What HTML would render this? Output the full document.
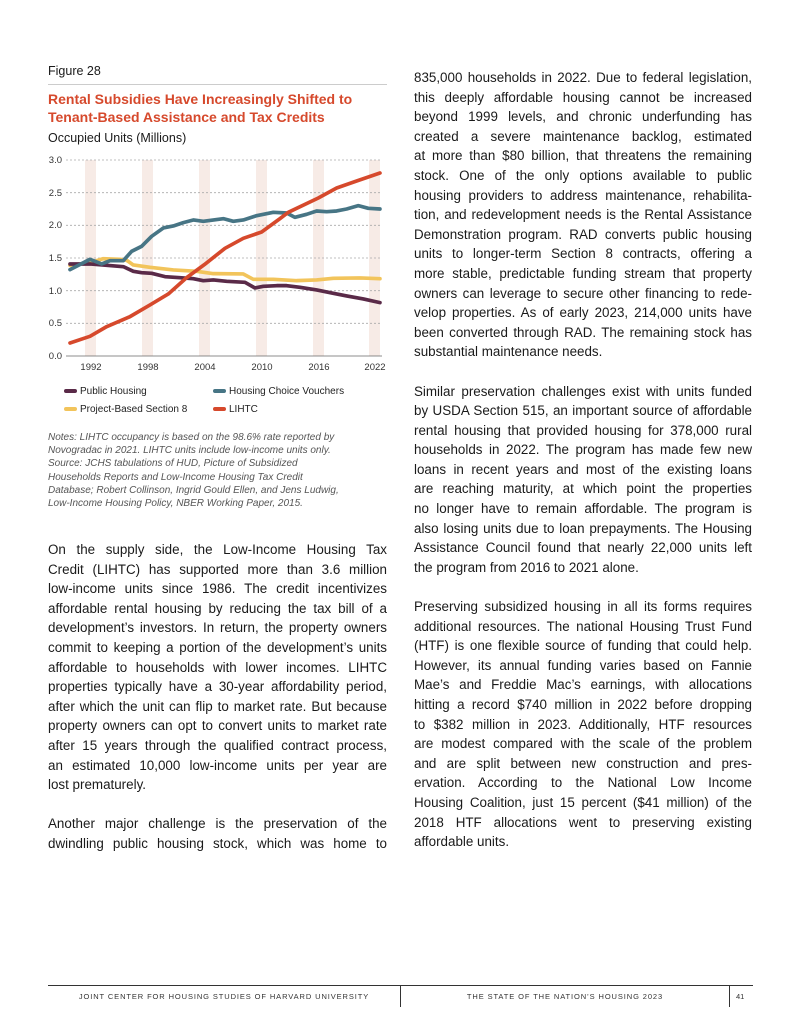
<!DOCTYPE html>
<html><head><meta charset="utf-8"><style>
body{margin:0;background:#fff;}
#p{position:relative;width:800px;height:1035px;overflow:hidden;font-family:"Liberation Sans",sans-serif;color:#1a1a1a;}
.a{position:absolute;}
.col div{height:19.6px;line-height:19.6px;font-size:13.4px;white-space:nowrap;text-align:justify;text-align-last:justify;}
.col div.l{text-align-last:left;}
.n div{height:13.2px;line-height:13.2px;font-size:10px;font-style:italic;color:#555;white-space:nowrap;}
</style></head><body><div id="p">
<div class="a" style="left:48px;top:64px;font-size:12.5px;">Figure 28</div>
<div class="a" style="left:48px;top:84px;width:339px;height:1px;background:#ccc;"></div>
<div class="a" style="left:48px;top:90px;font-size:14px;font-weight:bold;color:#d6492c;line-height:18px;">Rental Subsidies Have Increasingly Shifted to<br>Tenant-Based Assistance and Tax Credits</div>
<div class="a" style="left:48px;top:131px;font-size:12.5px;">Occupied Units (Millions)</div>
<svg class="a" style="left:0;top:0" width="400" height="420">
<g fill="#f7ebe6"><rect x="85" y="160" width="11" height="196"/><rect x="142" y="160" width="11" height="196"/><rect x="199" y="160" width="11" height="196"/><rect x="256" y="160" width="11" height="196"/><rect x="313" y="160" width="11" height="196"/><rect x="369" y="160" width="11" height="196"/></g>
<g stroke="#aaa" stroke-dasharray="2,2" stroke-width="0.8"><line x1="66" x2="382" y1="160" y2="160"/><line x1="66" x2="382" y1="192.7" y2="192.7"/><line x1="66" x2="382" y1="225.3" y2="225.3"/><line x1="66" x2="382" y1="258" y2="258"/><line x1="66" x2="382" y1="290.7" y2="290.7"/><line x1="66" x2="382" y1="323.3" y2="323.3"/></g>
<line x1="66" x2="382" y1="356" y2="356" stroke="#666" stroke-width="0.8"/>
<g font-size="9.5" fill="#333" text-anchor="end"><text x="62" y="163">3.0</text><text x="62" y="196">2.5</text><text x="62" y="228">2.0</text><text x="62" y="261">1.5</text><text x="62" y="294">1.0</text><text x="62" y="326">0.5</text><text x="62" y="359">0.0</text></g>
<g font-size="9.5" fill="#333" text-anchor="middle"><text x="91" y="370">1992</text><text x="148" y="370">1998</text><text x="205" y="370">2004</text><text x="262" y="370">2010</text><text x="319" y="370">2016</text><text x="375" y="370">2022</text></g>
<g transform="translate(40,60) scale(0.3333)" fill="none" stroke-width="11" stroke-linejoin="round" stroke-linecap="round">
<polyline stroke="#f2c45b" points="90,616 150,608 190,596 240,598 260,601 280,615 330,622 400,630 470,634 520,641 610,642 640,658 700,658 770,662 830,660 880,655 960,654 1020,656"/>
<polyline stroke="#5a2a48" points="90,612 150,612 200,616 250,620 280,634 305,638 335,640 375,650 420,653 460,656 490,662 520,660 560,664 615,667 645,684 670,679 710,677 740,677 780,682 830,690 880,700 920,708 970,717 1020,728"/>
<polyline stroke="#477585" points="90,629 150,598 185,612 210,602 250,602 275,574 305,559 335,529 370,504 400,498 430,488 460,480 490,484 550,476 580,484 610,480 650,467 700,457 740,459 765,472 800,463 830,453 860,455 890,453 920,447 955,437 985,445 1020,447"/>
<polyline stroke="#d6492c" points="90,849 150,829 200,800 270,770 330,735 385,702 440,653 493,614 555,565 610,535 665,516 720,476 745,457 835,414 890,384 950,363 1020,339"/>
</g>
<g stroke-width="4" stroke-linecap="round"><line x1="66" x2="75" y1="391" y2="391" stroke="#5a2a48"/><line x1="215" x2="224" y1="391" y2="391" stroke="#477585"/><line x1="66" x2="75" y1="409" y2="409" stroke="#f2c45b"/><line x1="215" x2="224" y1="409" y2="409" stroke="#d6492c"/></g>
<g font-size="10" fill="#222"><text x="80" y="394">Public Housing</text><text x="229" y="394">Housing Choice Vouchers</text><text x="80" y="412">Project-Based Section 8</text><text x="229" y="412">LIHTC</text></g>
</svg>
<div class="a n" style="left:48px;top:431px;">
<div>Notes: LIHTC occupancy is based on the 98.6% rate reported by</div>
<div>Novogradac in 2021. LIHTC units include low-income units only.</div>
<div>Source: JCHS tabulations of HUD, Picture of Subsidized</div>
<div>Households Reports and Low-Income Housing Tax Credit</div>
<div>Database; Robert Collinson, Ingrid Gould Ellen, and Jens Ludwig,</div>
<div>Low-Income Housing Policy, NBER Working Paper, 2015.</div>
</div>
<div class="a col" style="left:48px;top:540px;width:339px;">
<div>On the supply side, the Low-Income Housing Tax</div>
<div>Credit (LIHTC) has supported more than 3.6 million</div>
<div>low-income units since 1986. The credit incentivizes</div>
<div>affordable rental housing by reducing the tax bill of a</div>
<div>development’s investors. In return, the property owners</div>
<div>commit to keeping a portion of the development’s units</div>
<div>affordable to households with lower incomes. LIHTC</div>
<div>properties typically have a 30-year affordability period,</div>
<div>after which the unit can flip to market rate. But because</div>
<div>property owners can opt to convert units to market rate</div>
<div>after 15 years through the qualified contract process,</div>
<div>an estimated 10,000 low-income units per year are</div>
<div class="l">lost prematurely.</div>
<div class="l"></div>
<div>Another major challenge is the preservation of the</div>
<div>dwindling public housing stock, which was home to</div>
</div>
<div class="a col" style="left:414px;top:68px;width:338px;">
<div>835,000 households in 2022. Due to federal legislation,</div>
<div>this deeply affordable housing cannot be increased</div>
<div>beyond 1999 levels, and chronic underfunding has</div>
<div>created a severe maintenance backlog, estimated</div>
<div>at more than $80 billion, that threatens the remaining</div>
<div>stock. One of the only options available to public</div>
<div>housing providers to address maintenance, rehabilita-</div>
<div>tion, and redevelopment needs is the Rental Assistance</div>
<div>Demonstration program. RAD converts public housing</div>
<div>units to longer-term Section 8 contracts, offering a</div>
<div>more stable, predictable funding stream that property</div>
<div>owners can leverage to secure other financing to rede-</div>
<div>velop properties. As of early 2023, 214,000 units have</div>
<div>been converted through RAD. The remaining stock has</div>
<div class="l">substantial maintenance needs.</div>
<div class="l"></div>
<div>Similar preservation challenges exist with units funded</div>
<div>by USDA Section 515, an important source of affordable</div>
<div>rental housing that provided housing for 378,000 rural</div>
<div>households in 2022. The program has made few new</div>
<div>loans in recent years and most of the existing loans</div>
<div>are reaching maturity, at which point the properties</div>
<div>no longer have to remain affordable. The program is</div>
<div>also losing units due to loan prepayments. The Housing</div>
<div>Assistance Council found that nearly 22,000 units left</div>
<div class="l">the program from 2016 to 2021 alone.</div>
<div class="l"></div>
<div>Preserving subsidized housing in all its forms requires</div>
<div>additional resources. The national Housing Trust Fund</div>
<div>(HTF) is one flexible source of funding that could help.</div>
<div>However, its annual funding varies based on Fannie</div>
<div>Mae’s and Freddie Mac’s earnings, with allocations</div>
<div>hitting a record $740 million in 2022 before dropping</div>
<div>to $382 million in 2023. Additionally, HTF resources</div>
<div>are modest compared with the scale of the problem</div>
<div>and are split between new construction and pres-</div>
<div>ervation. According to the National Low Income</div>
<div>Housing Coalition, just 15 percent ($41 million) of the</div>
<div>2018 HTF allocations went to preserving existing</div>
<div class="l">affordable units.</div>
</div>
<div class="a" style="left:48px;top:985px;width:705px;height:1px;background:#333;"></div>
<div class="a" style="left:400px;top:985px;width:1px;height:22px;background:#333;"></div>
<div class="a" style="left:729px;top:985px;width:1px;height:22px;background:#333;"></div>
<div class="a" style="left:48px;top:992px;width:352px;text-align:center;font-size:7.5px;letter-spacing:0.9px;color:#333;">JOINT CENTER FOR HOUSING STUDIES OF HARVARD UNIVERSITY</div>
<div class="a" style="left:401px;top:992px;width:328px;text-align:center;font-size:7.5px;letter-spacing:0.9px;color:#333;">THE STATE OF THE NATION’S HOUSING 2023</div>
<div class="a" style="left:736px;top:992px;font-size:7.5px;color:#333;">41</div>
</div></body></html>
